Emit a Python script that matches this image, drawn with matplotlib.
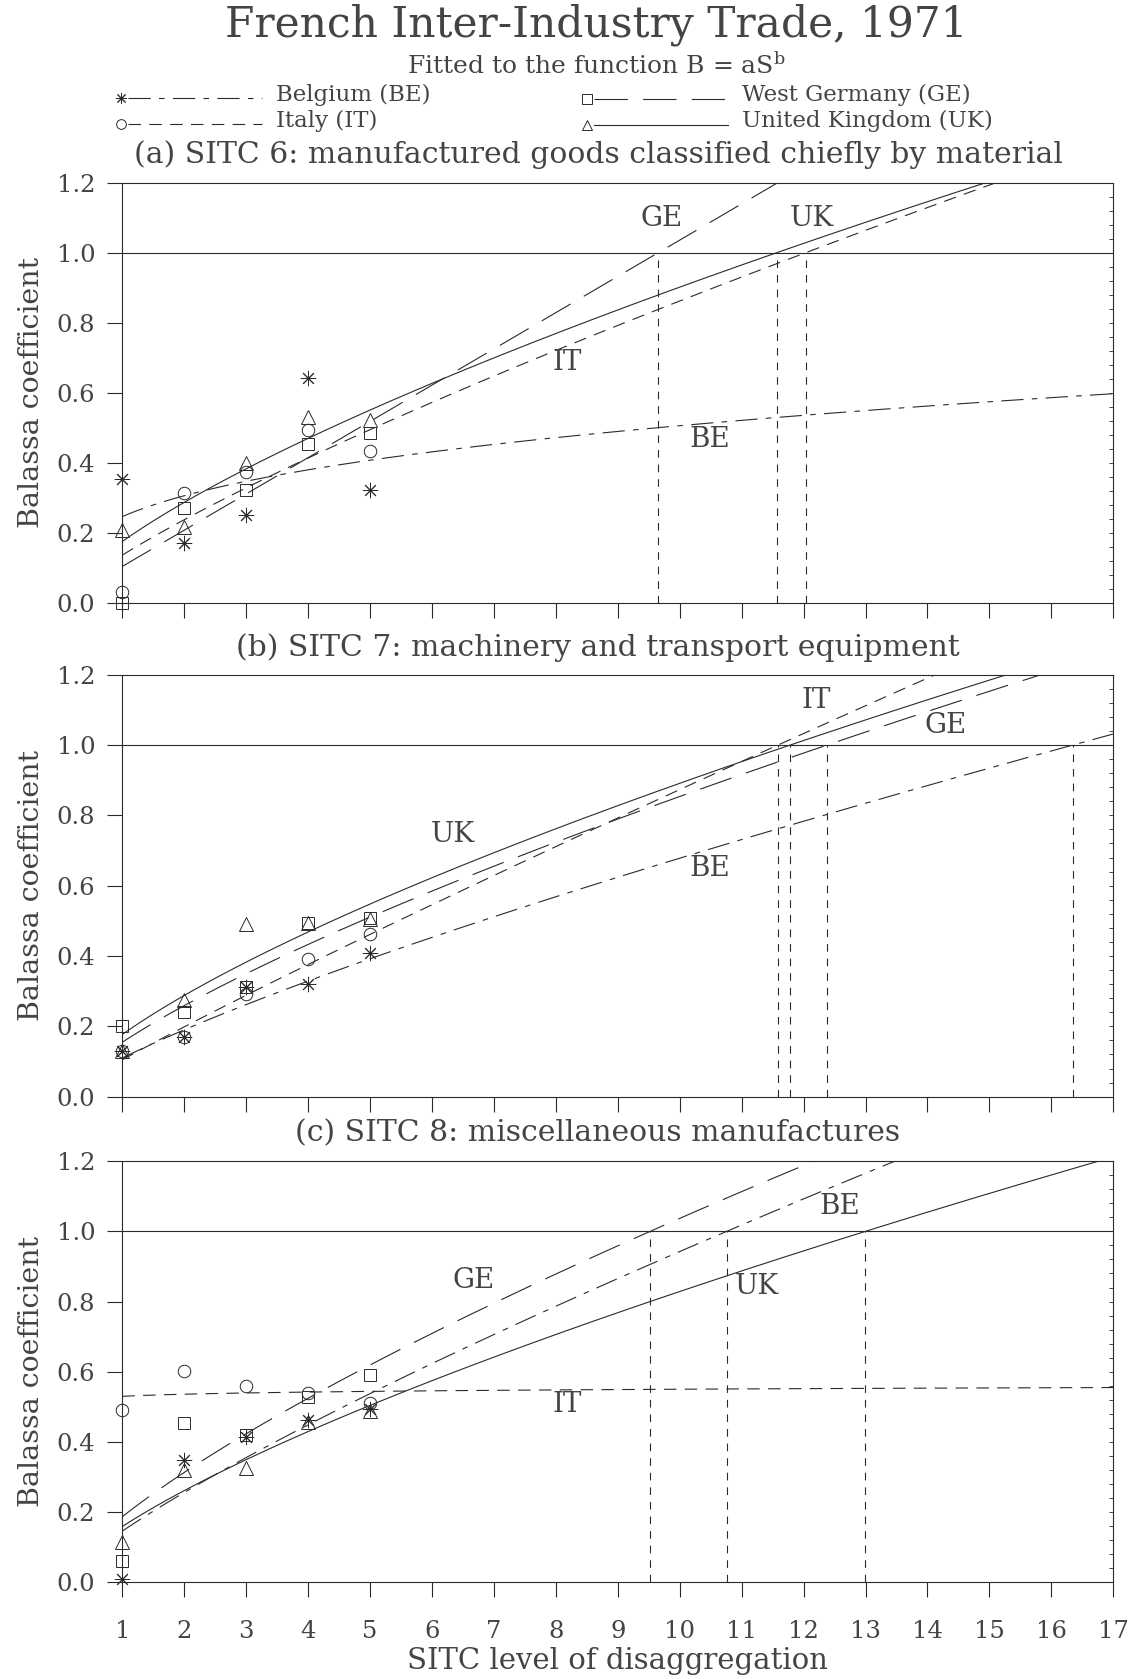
import numpy as np
import matplotlib
matplotlib.use("Agg")
import matplotlib.pyplot as plt
from matplotlib.ticker import MultipleLocator, FormatStrFormatter

plt.rcParams['font.family'] = ['DejaVu Serif', 'DejaVu Sans']
plt.rcParams['mathtext.fontset'] = 'dejavuserif'
plt.rcParams['lines.scale_dashes'] = False

# ---------------- data ----------------
levels = [1, 2, 3, 4, 5]
countries = ['BE', 'GE', 'IT', 'UK']
country_names = ['Belgium (BE)', 'West Germany (GE)', 'Italy (IT)', 'United Kingdom (UK)']

panel_titles = ['(a) SITC 6: manufactured goods classified chiefly by material',
                '(b) SITC 7: machinery and transport equipment',
                '(c) SITC 8: miscellaneous manufactures']

# observed Balassa coefficients (S = 1..5)
a_BE = [0.353, 0.171, 0.250, 0.643, 0.322]
a_GE = [0.000, 0.271, 0.322, 0.453, 0.486]
a_IT = [0.031, 0.313, 0.373, 0.493, 0.433]
a_UK = [0.208, 0.217, 0.398, 0.531, 0.522]

b_BE = [0.131, 0.171, 0.313, 0.320, 0.409]
b_GE = [0.202, 0.242, 0.311, 0.493, 0.509]
b_IT = [0.131, 0.171, 0.291, 0.391, 0.462]
b_UK = [0.130, 0.275, 0.490, 0.493, 0.505]

c_BE = [0.009, 0.348, 0.415, 0.462, 0.495]
c_GE = [0.061, 0.453, 0.420, 0.529, 0.591]
c_IT = [0.491, 0.602, 0.559, 0.540, 0.512]
c_UK = [0.116, 0.320, 0.327, 0.458, 0.488]

# fitted B = a S^b : coefficients (a) and exponents (b) in order BE, GE, IT, UK
a_coef = [0.246, 0.1036, 0.136, 0.175]
a_expo = [0.313, 1.000, 0.802, 0.712]
b_coef = [0.110, 0.155, 0.105, 0.177]
b_expo = [0.790, 0.741, 0.920, 0.702]
c_coef = [0.146, 0.187, 0.530, 0.159]
c_expo = [0.810, 0.744, 0.0163, 0.717]

# curve label positions (S, B) per panel
a_lab = {'GE': (9.7, 1.097), 'UK': (12.13, 1.097), 'IT': (8.19, 0.686), 'BE': (10.49, 0.466)}
b_lab = {'IT': (12.2, 1.127), 'GE': (14.29, 1.055), 'UK': (6.34, 0.746), 'BE': (10.49, 0.649)}
c_lab = {'BE': (12.59, 1.072), 'GE': (6.68, 0.859), 'UK': (11.24, 0.844), 'IT': (8.19, 0.506)}

panels = [
    dict(obs=[a_BE, a_GE, a_IT, a_UK], coef=a_coef, expo=a_expo, lab=a_lab),
    dict(obs=[b_BE, b_GE, b_IT, b_UK], coef=b_coef, expo=b_expo, lab=b_lab),
    dict(obs=[c_BE, c_GE, c_IT, c_UK], coef=c_coef, expo=c_expo, lab=c_lab),
]

# ---------------- styles ----------------
INK = '#2a2a2a'
TXT = '#444444'
LW = 0.8
styles = {
    'BE': dict(dashes=(16, 6, 4, 6), marker=(8, 2, 0), ms=11, lms=8),
    'GE': dict(dashes=(24, 11), marker='s', ms=9, lms=7),
    'IT': dict(dashes=(9, 6), marker='o', ms=9, lms=7),
    'UK': dict(dashes=(), marker='^', ms=10, lms=7.5),
}

W, H = 1138, 1679
fig = plt.figure(figsize=(W / 100, H / 100), dpi=100)
fig.patch.set_facecolor('white')

ax_left, ax_right = 122.3, 1113.3
ax_rows = [(182.7, 602.7), (674.7, 1096.7), (1161.2, 1582.3)]

S = np.linspace(1, 17, 400)

for i, (pan, (top, bot)) in enumerate(zip(panels, ax_rows)):
    ax = fig.add_axes([ax_left / W, 1 - bot / H, (ax_right - ax_left) / W, (bot - top) / H])
    ax.set_xlim(1, 17)
    ax.set_ylim(0, 1.2)
    for sp in ax.spines.values():
        sp.set_color(INK)
        sp.set_linewidth(LW)
    ax.axhline(1.0, color=INK, lw=LW)
    for k, c in enumerate(countries):
        st = styles[c]
        a, b = pan['coef'][k], pan['expo'][k]
        ln, = ax.plot(S, a * S ** b, color=INK, lw=LW)
        if st['dashes']:
            ln.set_dashes(st['dashes'])
        ax.plot(levels, pan['obs'][k], linestyle='none', marker=st['marker'], ms=st['ms'],
                mfc='none', mec=INK, mew=0.7, clip_on=False, zorder=5)
        xc = (1.0 / a) ** (1.0 / b)
        if 1 < xc < 17:
            vl, = ax.plot([xc, xc], [0, 1.0], color=INK, lw=LW)
            vl.set_dashes((5.5, 5))
        lx, ly = pan['lab'][c]
        ax.text(lx, ly, c, ha='center', va='center', fontsize=20, color=TXT)

    ax.xaxis.set_major_locator(MultipleLocator(1))
    ax.yaxis.set_major_locator(MultipleLocator(0.2))
    ax.yaxis.set_major_formatter(FormatStrFormatter('%.1f'))
    ax.tick_params(axis='both', direction='out', length=11, width=LW, color=INK,
                   labelsize=17.5, labelcolor=TXT)
    ax.tick_params(axis='y', pad=8.5)
    ax.tick_params(axis='x', pad=16)
    if i < 2:
        ax.tick_params(axis='x', labelbottom=False)
    else:
        ax.set_xlabel('SITC level of disaggregation', fontsize=21, color=TXT, labelpad=3)
    ax.set_ylabel('Balassa coefficient', fontsize=20.5, color=TXT, labelpad=8)

    tw = ax.twinx()
    tw.set_ylim(0, 1.2)
    tw.yaxis.set_major_locator(MultipleLocator(0.04))
    tw.tick_params(axis='y', direction='in', length=3, width=0.6, color=INK, labelright=False)
    for sp in tw.spines.values():
        sp.set_visible(False)

# overlay for titles / legend in pixel coordinates
ov = fig.add_axes([0, 0, 1, 1], zorder=-1)
ov.set_xlim(0, W)
ov.set_ylim(H, 0)
ov.axis('off')

ov.text(596, 25, 'French Inter-Industry Trade, 1971', ha='center', va='center',
        fontsize=30.5, color=TXT)
ov.text(596, 65, r'Fitted to the function B = aS$^{\mathrm{b}}$', ha='center', va='center',
        fontsize=18, color=TXT)
for t, y in zip(panel_titles, [155, 648, 1133]):
    ov.text(598, y, t, ha='center', va='center', fontsize=21.5, color=TXT)

leg_pos = {'BE': (121, 98, 95), 'IT': (121, 124, 121), 'GE': (587, 99, 95), 'UK': (587, 125, 121)}
for c, name in zip(countries, country_names):
    mx, my, ty = leg_pos[c]
    st = styles[c]
    ln, = ov.plot([mx + 7, mx + 141], [my, my], color=INK, lw=LW)
    if st['dashes']:
        ln.set_dashes(st['dashes'])
    ov.plot([mx], [my], linestyle='none', marker=st['marker'], ms=st['lms'],
            mfc='none', mec=INK, mew=0.7)
    ov.text(mx + 155, ty, name, ha='left', va='center', fontsize=16.5, color=TXT)

fig.savefig('out.png', dpi=100, facecolor='white')
